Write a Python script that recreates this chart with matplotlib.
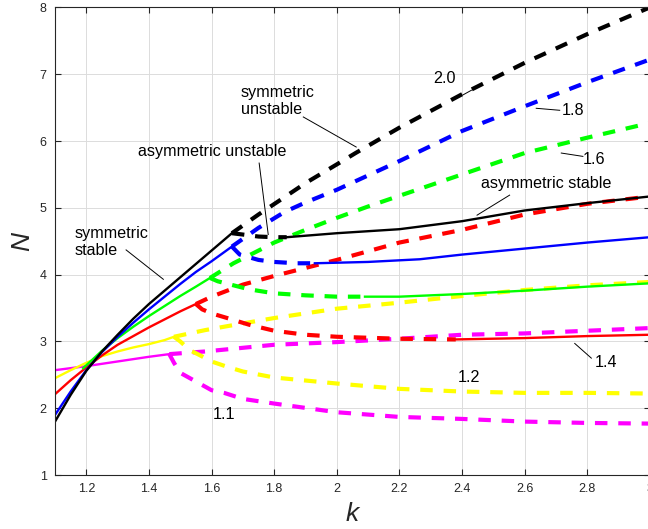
import matplotlib
matplotlib.use("Agg")
import matplotlib.pyplot as plt

plt.rcParams['font.family'] = ['Liberation Sans', 'DejaVu Sans']

# symmetric stable branches (solid), k and N
sym_k = {
    '2.0': [1.1, 1.15, 1.2, 1.25, 1.3, 1.35, 1.4, 1.45, 1.5, 1.55, 1.6, 1.665],
    '1.8': [1.1, 1.15, 1.2, 1.25, 1.3, 1.35, 1.4, 1.45, 1.5, 1.55, 1.6, 1.665],
    '1.6': [1.19, 1.25, 1.3, 1.35, 1.4, 1.45, 1.5, 1.55, 1.595],
    '1.4': [1.1, 1.15, 1.2, 1.25, 1.3, 1.35, 1.4, 1.45, 1.5, 1.55],
    '1.2': [1.1, 1.15, 1.2, 1.25, 1.3, 1.35, 1.4, 1.45, 1.48],
    '1.1': [1.1, 1.2, 1.3, 1.4, 1.465],
}
sym_n = {
    '2.0': [1.80, 2.20, 2.56, 2.85, 3.10, 3.34, 3.56, 3.76, 3.96, 4.16, 4.36, 4.62],
    '1.8': [1.90, 2.25, 2.57, 2.84, 3.07, 3.28, 3.48, 3.67, 3.86, 4.04, 4.20, 4.42],
    '1.6': [2.60, 2.86, 3.05, 3.22, 3.38, 3.53, 3.68, 3.82, 3.95],
    '1.4': [2.21, 2.42, 2.61, 2.79, 2.95, 3.08, 3.21, 3.33, 3.45, 3.56],
    '1.2': [2.45, 2.57, 2.68, 2.78, 2.85, 2.91, 2.96, 3.02, 3.07],
    '1.1': [2.57, 2.63, 2.70, 2.77, 2.81],
}

# symmetric unstable branches (dashed)
symu_k = {
    '2.0': [1.665, 1.75, 1.83, 1.9, 2.0, 2.06, 2.2, 2.4, 2.6, 2.8, 3.0],
    '1.8': [1.665, 1.75, 1.834, 1.9, 2.0, 2.2, 2.4, 2.6, 2.8, 3.0],
    '1.6': [1.595, 1.67, 1.75, 1.8, 1.9, 2.0, 2.1, 2.2, 2.4, 2.6, 2.8, 3.0],
    '1.4': [1.55, 1.6, 1.7, 1.8, 1.9, 2.0, 2.2, 2.4, 2.6, 2.8, 3.0],
    '1.2': [1.48, 1.58, 1.7, 1.8, 2.0, 2.2, 2.4, 2.6, 2.8, 3.0],
    '1.1': [1.465, 1.58, 1.8, 2.0, 2.2, 2.4, 2.6, 2.8, 3.0],
}
symu_n = {
    '2.0': [4.62, 4.90, 5.15, 5.37, 5.65, 5.82, 6.20, 6.70, 7.17, 7.60, 8.0],
    '1.8': [4.42, 4.70, 4.94, 5.08, 5.27, 5.70, 6.15, 6.52, 6.88, 7.22],
    '1.6': [3.95, 4.17, 4.36, 4.48, 4.67, 4.85, 5.02, 5.18, 5.50, 5.82, 6.05, 6.27],
    '1.4': [3.56, 3.67, 3.85, 3.98, 4.10, 4.22, 4.48, 4.67, 4.90, 5.06, 5.17],
    '1.2': [3.07, 3.17, 3.27, 3.35, 3.49, 3.58, 3.68, 3.77, 3.84, 3.89],
    '1.1': [2.81, 2.85, 2.95, 2.99, 3.04, 3.10, 3.12, 3.16, 3.20],
}

# asymmetric unstable branches (dashed)
asyu_k = {
    '2.0': [1.665, 1.7, 1.75, 1.8, 1.84],
    '1.8': [1.665, 1.69, 1.75, 1.8, 1.87, 1.93],
    '1.6': [1.595, 1.62, 1.67, 1.72, 1.8, 1.9, 2.0, 2.09],
    '1.4': [1.55, 1.57, 1.6, 1.65, 1.72, 1.8, 1.9, 2.0, 2.2, 2.38],
    '1.2': [1.48, 1.5, 1.53, 1.56, 1.6, 1.65, 1.7, 1.8, 2.0, 2.2, 2.4, 2.6, 2.8, 3.0],
    '1.1': [1.465, 1.48, 1.5, 1.55, 1.6, 1.64, 1.7, 1.8, 2.0, 2.2, 2.4, 2.6, 2.8, 3.0],
}
asyu_n = {
    '2.0': [4.62, 4.60, 4.57, 4.56, 4.56],
    '1.8': [4.42, 4.30, 4.22, 4.19, 4.17, 4.17],
    '1.6': [3.95, 3.90, 3.84, 3.78, 3.72, 3.69, 3.67, 3.67],
    '1.4': [3.56, 3.48, 3.42, 3.35, 3.25, 3.16, 3.10, 3.07, 3.04, 3.03],
    '1.2': [3.07, 3.00, 2.87, 2.80, 2.70, 2.62, 2.55, 2.46, 2.37, 2.29, 2.25, 2.23, 2.23, 2.22],
    '1.1': [2.81, 2.68, 2.53, 2.40, 2.27, 2.23, 2.14, 2.07, 1.94, 1.87, 1.84, 1.80, 1.78, 1.77],
}

# asymmetric stable branches (solid)
asys_k = {
    '2.0': [1.84, 2.0, 2.2, 2.4, 2.6, 2.8, 3.0],
    '1.8': [1.93, 2.1, 2.265, 2.4, 2.6, 2.8, 3.0],
    '1.6': [2.09, 2.2, 2.4, 2.6, 2.8, 3.0],
    '1.4': [2.38, 2.6, 2.8, 3.0],
}
asys_n = {
    '2.0': [4.56, 4.62, 4.68, 4.80, 4.96, 5.07, 5.17],
    '1.8': [4.17, 4.19, 4.23, 4.30, 4.39, 4.48, 4.56],
    '1.6': [3.67, 3.67, 3.71, 3.76, 3.82, 3.87],
    '1.4': [3.03, 3.05, 3.08, 3.10],
}

colors = {'2.0': 'k', '1.8': 'b', '1.6': '#00ff00', '1.4': 'r', '1.2': '#ffff00', '1.1': '#ff00ff'}
draw_order = ['1.1', '1.2', '1.4', '1.6', '1.8', '2.0']

fig = plt.figure(figsize=(6.48, 5.29), dpi=100)
ax = fig.add_axes([0.0849, 0.102, 0.918, 0.884])

dash = (3.0, 2.6)
for key in draw_order:
    c = colors[key]
    ax.plot(symu_k[key], symu_n[key], color=c, lw=3, dashes=dash)
    ax.plot(asyu_k[key], asyu_n[key], color=c, lw=3, dashes=dash)
    ax.plot(sym_k[key], sym_n[key], color=c, lw=1.7)
    if key in asys_k:
        ax.plot(asys_k[key], asys_n[key], color=c, lw=1.7)

# annotations
fs = 11.6
ax.text(1.693, 6.6, 'symmetric\nunstable', fontsize=fs, ha='left', va='center', linespacing=1.2)
ax.text(1.366, 5.84, 'asymmetric unstable', fontsize=fs, ha='left', va='center')
ax.text(1.161, 4.49, 'symmetric\nstable', fontsize=fs, ha='left', va='center', linespacing=1.2)
ax.text(2.462, 5.37, 'asymmetric stable', fontsize=fs, ha='left', va='center')
ax.text(2.307, 6.94, '2.0', fontsize=fs, ha='left', va='center')
ax.text(2.717, 6.45, '1.8', fontsize=fs, ha='left', va='center')
ax.text(2.786, 5.72, '1.6', fontsize=fs, ha='left', va='center')
ax.text(2.824, 2.68, '1.4', fontsize=fs, ha='left', va='center')
ax.text(2.387, 2.46, '1.2', fontsize=fs, ha='left', va='center')
ax.text(1.605, 1.90, '1.1', fontsize=fs, ha='left', va='center')

pointers = [
    ((1.893, 6.36), (2.062, 5.91)),
    ((1.752, 5.67), (1.781, 4.60)),
    ((1.327, 4.37), (1.446, 3.93)),
    ((2.552, 5.19), (2.448, 4.89)),
    ((2.403, 6.69), (2.43, 6.76)),
    ((2.637, 6.49), (2.712, 6.46)),
    ((2.717, 5.82), (2.786, 5.77)),
    ((2.76, 2.97), (2.813, 2.75)),
]
for (x0, y0), (x1, y1) in pointers:
    ax.plot([x0, x1], [y0, y1], color='k', lw=0.7)

ax.set_xlim(1.1, 3.0)
ax.set_ylim(1, 8)
ax.set_xticks([1.2, 1.4, 1.6, 1.8, 2.0, 2.2, 2.4, 2.6, 2.8, 3.0])
ax.set_xticklabels(['1.2', '1.4', '1.6', '1.8', '2', '2.2', '2.4', '2.6', '2.8', '3'])
ax.set_yticks([1, 2, 3, 4, 5, 6, 7, 8])
ax.grid(True, color='#dcdcdc', lw=0.7)
ax.set_axisbelow(True)
ax.tick_params(direction='in', top=True, right=True, length=4, width=0.8,
               labelsize=9, colors='#262626', pad=6)
for s in ax.spines.values():
    s.set_color('#262626')
    s.set_linewidth(0.8)

ax.set_xlabel('k', fontsize=19, style='italic', color='#262626', labelpad=5)
ax.set_ylabel('N', fontsize=19, style='italic', color='#262626', labelpad=4)

fig.savefig('out.png', dpi=100)
